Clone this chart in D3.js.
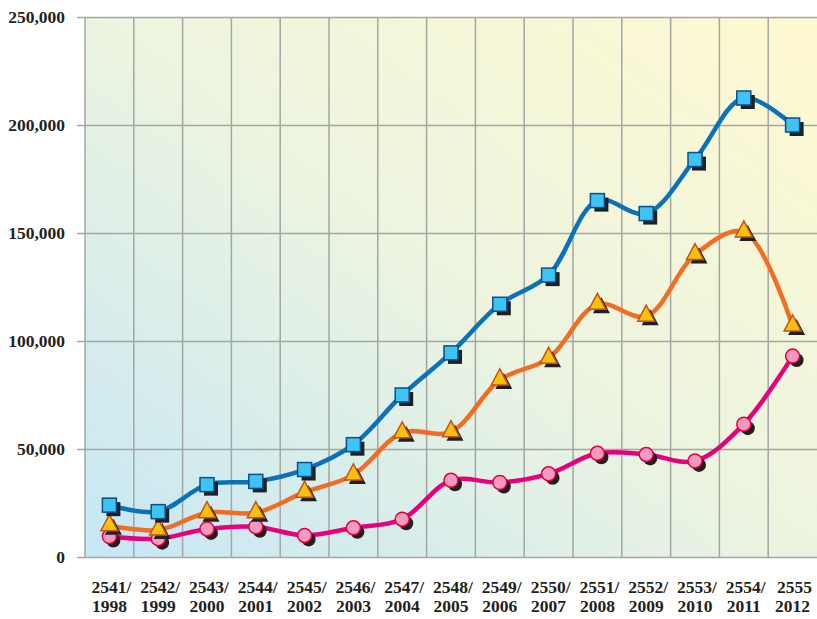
<!DOCTYPE html>
<html>
<head>
<meta charset="utf-8">
<script src="https://cdn.jsdelivr.net/npm/d3@7"></script>
<style>
  body { margin: 0; background: #fff; }
  svg text { font-family: "Liberation Serif", "Times New Roman", serif; font-weight: bold; fill: #231f20; }
</style>
</head>
<body>
<div id="chart"></div>
<script>
// categories (Thai year / western year)
const years_th = ["2541/", "2542/", "2543/", "2544/", "2545/", "2546/", "2547/", "2548/", "2549/", "2550/", "2551/", "2552/", "2553/", "2554/", "2555"];
const years_en = ["1998", "1999", "2000", "2001", "2002", "2003", "2004", "2005", "2006", "2007", "2008", "2009", "2010", "2011", "2012"];

// series values
const blueVals   = [24000, 21000, 33500, 35000, 40500, 52000, 75000, 94500, 117000, 130500, 165000, 159000, 184000, 212500, 200000];
const orangeVals = [14500, 12500, 20500, 20500, 30000, 38000, 57500, 58000, 82000, 92000, 117000, 111500, 140000, 150500, 107000];
const pinkVals   = [9500, 8500, 13000, 14000, 10000, 13500, 17500, 35500, 34500, 38500, 48000, 47500, 44500, 61500, 93000];

const yTicks = [0, 50000, 100000, 150000, 200000, 250000];

const margin = {top: 17, right: 0, bottom: 62, left: 85};
const W = 817, H = 619;
const width = W - margin.left - margin.right;
const height = H - margin.top - margin.bottom;

const svg = d3.select("#chart").append("svg")
    .attr("width", W)
    .attr("height", H);

const defs = svg.append("defs");
const grad = defs.append("linearGradient")
    .attr("id", "bg")
    .attr("x1", "0%").attr("y1", "100%")
    .attr("x2", "100%").attr("y2", "0%");
grad.append("stop").attr("offset", "0%").attr("stop-color", "#c6e7f5");
grad.append("stop").attr("offset", "50%").attr("stop-color", "#ecf4e0");
grad.append("stop").attr("offset", "100%").attr("stop-color", "#fff9d0");

const g = svg.append("g")
    .attr("transform", "translate(" + margin.left + "," + margin.top + ")");

const x = d3.scaleBand()
    .domain(years_en)
    .range([0, width])
    .padding(0);

const y = d3.scaleLinear()
    .domain([0, 250000])
    .range([height, 0]);

g.append("rect")
    .attr("width", width)
    .attr("height", height)
    .attr("fill", "url(#bg)");

// vertical grid lines on band edges
g.append("g")
  .selectAll("line")
  .data(years_en)
  .enter()
  .append("line")
    .attr("x1", d => x(d))
    .attr("x2", d => x(d))
    .attr("y1", 0)
    .attr("y2", height)
    .attr("stroke", "#a3a6a3")
    .attr("stroke-width", 1.5);

// y axis with grid
const yAxis = g.append("g")
    .call(d3.axisLeft(y)
      .tickValues(yTicks)
      .tickSize(-width)
      .tickPadding(20)
      .tickFormat(d3.format(",")));
yAxis.select(".domain").remove();
yAxis.selectAll(".tick line")
    .attr("x1", -8)
    .attr("stroke", "#a3a6a3")
    .attr("stroke-width", 1.5);
yAxis.selectAll(".tick text")
    .style("font-size", "17.5px")
    .attr("fill", "#231f20");

// x labels (two lines)
const xl = g.append("g")
  .selectAll("text")
  .data(years_en)
  .enter()
  .append("text")
    .attr("x", d => x(d) + x.bandwidth() / 2)
    .attr("y", height + 36)
    .attr("text-anchor", "middle")
    .style("font-size", "17.5px");
xl.append("tspan")
    .attr("x", d => x(d) + x.bandwidth() / 2 + 2)
    .text((d, i) => years_th[i]);
xl.append("tspan")
    .attr("x", d => x(d) + x.bandwidth() / 2)
    .attr("dy", 19)
    .text(d => d);

const line = d3.line()
    .x((d, i) => x(years_en[i]) + x.bandwidth() / 2)
    .y(d => y(d))
    .curve(d3.curveCatmullRom.alpha(0.5));

const series = [
  {vals: pinkVals,   line: "#e6007e", fill: "#f49ac2", stroke: "#e4003a", shape: "circle"},
  {vals: orangeVals, line: "#f26c22", fill: "#fcc00c", stroke: "#c2541c", shape: "triangle"},
  {vals: blueVals,   line: "#0b72b9", fill: "#3ec4f2", stroke: "#0d4f8a", shape: "square"}
];

series.forEach(s => {
  g.append("path")
      .datum(s.vals)
      .attr("fill", "none")
      .attr("stroke", s.line)
      .attr("stroke-width", 4.5)
      .attr("stroke-linejoin", "round")
      .attr("d", line);
});

// markers drawn after all lines
series.forEach(s => {
  const mg = g.append("g");
  const pts = mg.selectAll("g.pt")
    .data(s.vals)
    .enter()
    .append("g")
      .attr("class", "pt")
      .attr("transform", (d, i) => "translate(" + (x(years_en[i]) + x.bandwidth() / 2) + "," + y(d) + ")");

  function shape(sel, dx, dy) {
    if (s.shape === "circle") {
      return sel.append("circle").attr("cx", dx).attr("cy", dy).attr("r", 7);
    } else if (s.shape === "square") {
      return sel.append("rect").attr("x", -7 + dx).attr("y", -7 + dy).attr("width", 14).attr("height", 14);
    } else {
      return sel.append("path").attr("transform", "translate(" + dx + "," + dy + ")")
        .attr("d", "M0,-11L8.5,5L-8.5,5Z");
    }
  }
  shape(pts, 4, 4).attr("fill", "#231f20");
  shape(pts, 0, 0)
      .attr("fill", s.fill)
      .attr("stroke", s.stroke)
      .attr("stroke-width", 1.5);
});
</script>
</body>
</html>
